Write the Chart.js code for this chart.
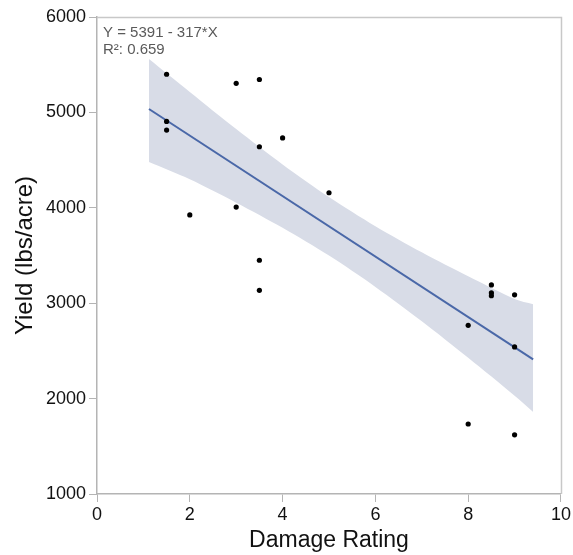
<!DOCTYPE html>
<html>
<head>
<meta charset="utf-8">
<script src="https://cdn.jsdelivr.net/npm/chart.js@4/dist/chart.umd.min.js"></script>
<style>
  html, body { margin: 0; padding: 0; background: #fff; }
  #wrap { position: relative; width: 573px; height: 555px; }
</style>
</head>
<body>
<div id="wrap"><canvas id="c" width="573" height="555"></canvas></div>
<script>
// observed points
const damage = [1.5, 1.5, 1.5, 2, 3, 3, 3.5, 3.5, 3.5, 3.5, 4, 5, 8, 8, 8.5, 8.5, 8.5, 9, 9, 9];
const yieldVals = [5400, 4905, 4815, 3925, 5305, 4008, 5345, 4640, 3450, 3135, 4732, 4158, 2768, 1734, 3192, 3108, 3078, 3088, 2542, 1620];

// fitted line Y = 5391 - 317*X, endpoints
const fitX = [1.12, 9.4];
const fitY = [5036, 2411];

// confidence band, read along the shaded area
const bandX     = [1.12, 2, 3, 4, 5, 6, 7, 8, 9, 9.4];
const bandUpper = [5560, 5215, 4826, 4455, 4113, 3807, 3533, 3282, 3045, 2990];
const bandLower = [4480, 4299, 4054, 3791, 3499, 3171, 2811, 2428, 2031, 1860];

const xTicks = [0, 2, 4, 6, 8, 10];
const yTicks = [1000, 2000, 3000, 4000, 5000, 6000];

const pts = (xs, ys) => xs.map((x, i) => ({ x, y: ys[i] }));

const AXIS = "#b4b4b4";
const FONT = "'Liberation Sans', Arial, Helvetica, sans-serif";

const frame = {
  id: "frame",
  beforeDatasetsDraw(chart){
    const { ctx, chartArea: a } = chart;
    ctx.save();
    ctx.strokeStyle = "#c8c8c8";
    ctx.lineWidth = 1.5;
    ctx.beginPath();
    ctx.moveTo(a.left, a.top + 0.5);
    ctx.lineTo(a.right + 0.5, a.top + 0.5);
    ctx.lineTo(a.right + 0.5, a.bottom);
    ctx.stroke();
    ctx.restore();
  },
  afterDraw(chart){
    const { ctx, chartArea: a } = chart;
    ctx.save();
    ctx.fillStyle = "#5a5a5a";
    ctx.font = "15px " + FONT;
    ctx.textBaseline = "middle";
    ctx.fillText("Y = 5391 - 317*X", a.left + 6, 33);
    ctx.fillText("R²: 0.659", a.left + 6, 50);
    ctx.restore();
  }
};

new Chart(document.getElementById("c"), {
  type: "scatter",
  data: {
    datasets: [
      { label: "Yield", data: pts(damage, yieldVals),
        pointRadius: 2.6, pointBackgroundColor: "#000", pointBorderWidth: 0 },
      { label: "Fit", data: pts(fitX, fitY), showLine: true,
        borderColor: "#4a68a8", borderWidth: 2, pointRadius: 0 },
      { label: "Upper", data: pts(bandX, bandUpper), showLine: true,
        borderWidth: 0, pointRadius: 0, fill: "+1",
        backgroundColor: "#d8dce7", tension: 0.3 },
      { label: "Lower", data: pts(bandX, bandLower), showLine: true,
        borderWidth: 0, pointRadius: 0, fill: false, tension: 0.3 }
    ]
  },
  options: {
    responsive: false,
    animation: false,
    layout: { padding: { top: 17, right: 11, left: 0, bottom: 0 } },
    plugins: { legend: { display: false }, tooltip: { enabled: false } },
    scales: {
      x: {
        min: 0, max: 10,
        afterFit: s => { s.height = 61; },
        afterBuildTicks: s => { s.ticks = xTicks.map(v => ({ value: v })); },
        grid: { drawOnChartArea: false, color: AXIS, tickLength: 8 },
        border: { color: AXIS, width: 1.5 },
        ticks: { color: "#111", font: { family: FONT, size: 18 }, padding: 2, maxRotation: 0,
                 callback: v => String(v) },
        title: { display: true, text: "Damage Rating", color: "#111",
                 font: { family: FONT, size: 23 }, padding: { top: 0, bottom: 1 } }
      },
      y: {
        min: 1000, max: 6000,
        afterFit: s => { s.width = 97; },
        afterBuildTicks: s => { s.ticks = yTicks.map(v => ({ value: v })); },
        grid: { drawOnChartArea: false, color: AXIS, tickLength: 8 },
        border: { color: AXIS, width: 1.5 },
        ticks: { color: "#111", font: { family: FONT, size: 18 }, padding: 3,
                 callback: v => String(v) },
        title: { display: true, text: "Yield (lbs/acre)", color: "#111",
                 font: { family: FONT, size: 24 }, padding: { top: 11, bottom: 0 } }
      }
    }
  },
  plugins: [frame]
});
</script>
</body>
</html>
